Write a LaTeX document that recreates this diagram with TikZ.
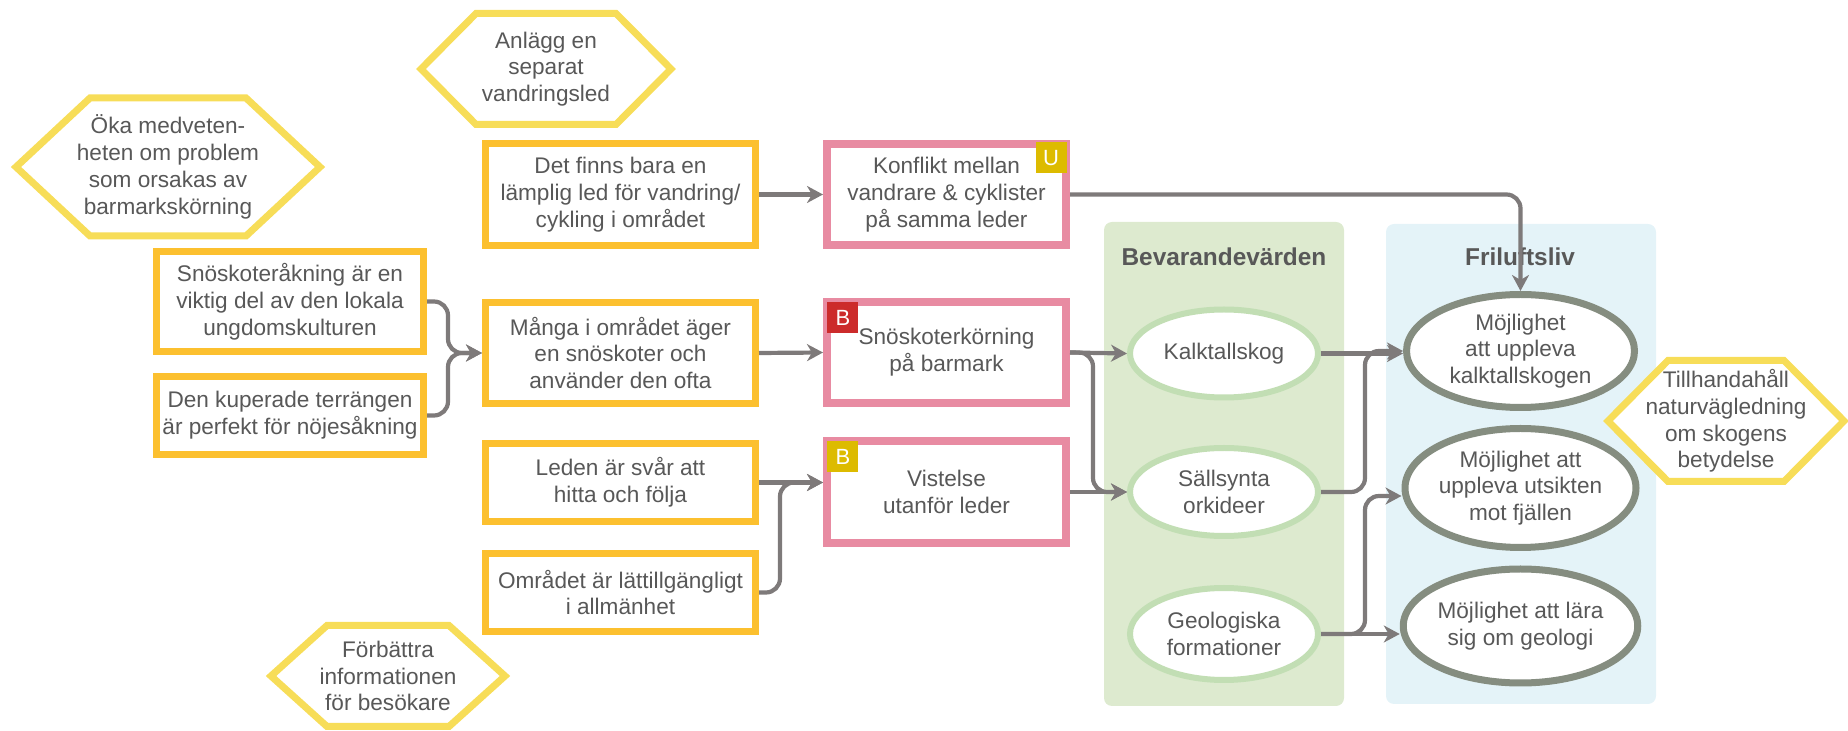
\documentclass[tikz,border=0pt]{standalone}
\usepackage{fontspec}
\setmainfont{Liberation Sans}
\usetikzlibrary{arrows.meta,shapes.geometric}
\definecolor{orangeC}{HTML}{FCC02F}
\definecolor{pinkC}{HTML}{E88BA2}
\definecolor{hexC}{HTML}{F7DD58}
\definecolor{arrowC}{HTML}{7E7A7A}
\definecolor{txtC}{HTML}{585858}
\definecolor{greenP}{HTML}{DDEACF}
\definecolor{greenE}{HTML}{C2DEB4}
\definecolor{blueP}{HTML}{E4F3F8}
\definecolor{grayE}{HTML}{858D80}
\definecolor{goldB}{HTML}{DDBB00}
\definecolor{redB}{HTML}{CC2B2B}
\newcommand\myhex[4]{%
  \draw[hexline] ([shift={(-#2,0)}]#1.center) -- ([shift={(-#2+#4,-#3)}]#1.center)
   -- ([shift={(#2-#4,-#3)}]#1.center) -- ([shift={(#2,0)}]#1.center)
   -- ([shift={(#2-#4,#3)}]#1.center) -- ([shift={(-#2+#4,#3)}]#1.center) -- cycle;}
\tikzset{
  txt/.style={align=center, text=txtC, font=\fontsize{11.3}{13.4}\selectfont, inner sep=0pt},
  obox/.style={txt, rectangle, draw=orangeC, fill=white, line width=3.5pt, minimum width=135pt},
  pbox/.style={txt, rectangle, draw=pinkC, fill=white, line width=4pt, minimum width=119.5pt, minimum height=50.5pt},
  gell/.style={txt, ellipse, draw=greenE, fill=white, line width=3pt, minimum width=94pt, minimum height=44pt},
  yell/.style={txt, ellipse, draw=grayE, fill=white, line width=3.5pt, minimum width=114pt, minimum height=56.5pt},
  hexline/.style={draw=hexC, fill=white, line width=3.5pt, line join=miter},
  panel/.style={rounded corners=4pt, inner sep=0pt},
  ptitle/.style={text=txtC, font=\fontsize{12.2}{14}\selectfont\bfseries, inner sep=0pt},
  badge/.style={text=white, font=\fontsize{11}{12}\selectfont, minimum width=15.5pt, minimum height=15.5pt, inner sep=0pt},
  conn/.style={draw=arrowC, line width=2.1pt, rounded corners=7pt, -{Stealth[length=8pt,width=8.5pt,inset=2.5pt]}},
}
\begin{document}
\begin{tikzpicture}[x=0.5pt,y=-0.5pt]
\useasboundingbox (0,0) rectangle (1848,731);
% panels
\node[panel, fill=greenP, minimum width=120pt, minimum height=242pt] (pG) at (1224,464) {};
\node[panel, fill=blueP, minimum width=135pt, minimum height=240pt] (pB) at (1521,464) {};
\node[ptitle] (tG) at (1224,257) {Bevarandevärden};
\node[ptitle] (tB) at (1520,257) {Friluftsliv};
% hexagons
\node[txt] (hA) at (546,69) {};
\myhex{hA}{125}{55.5}{55}
\node[txt] at (hA) {Anlägg en\\separat\\vandringsled};
\node[txt] (hO) at (168,167) {};
\myhex{hO}{152}{69}{74}
\node[txt] at (hO) {Öka medveten-\\heten om problem\\som orsakas av\\barmarkskörning};
\node[txt] (hF) at (388,676) {};
\myhex{hF}{117}{50.5}{56}
\node[txt] at (hF) {Förbättra\\informationen\\för besökare};
\node[txt] (hT) at (1726,421) {};
\myhex{hT}{118}{60.5}{60}
\node[txt] at (hT) {Tillhandahåll\\naturvägledning\\om skogens\\betydelse};
% orange boxes
\node[obox, minimum height=51pt] (bDet) at (620.5,194.5) {Det finns bara en\\lämplig led för vandring/\\cykling i området};
\node[obox, minimum width=133.5pt, minimum height=50pt] (bSno) at (290,301.5) {Snöskoteråkning är en\\viktig del av den lokala\\ungdomskulturen};
\node[obox, minimum width=133.5pt, minimum height=39pt] (bDen) at (290,415.5) {Den kuperade terrängen\\är perfekt för nöjesåkning};
\node[obox, minimum height=50.5pt] (bMan) at (620.5,353) {Många i området äger\\en snöskoter och\\använder den ofta};
\node[obox, minimum height=39pt] (bLed) at (620.5,482.5) {Leden är svår att\\hitta och följa};
\node[obox, minimum height=39pt] (bOmr) at (620.5,592.5) {Området är lättillgängligt\\i allmänhet};
% pink boxes
\node[pbox] (pKon) at (946.5,194.5) {Konflikt mellan\\vandrare \& cyklister\\på samma leder};
\node[pbox] (pSno) at (946.5,352.5) {Snöskoterkörning\\på barmark};
\node[pbox, minimum height=51pt] (pVis) at (946.5,492) {Vistelse\\utanför leder};
\node[badge, fill=goldB, anchor=north east] (uK) at ([shift={(-3,2)}]pKon.north east) {U};
\node[badge, fill=redB, anchor=north west] (bS) at ([shift={(4,4)}]pSno.north west) {B};
\node[badge, fill=goldB, anchor=north west] (bV) at ([shift={(4,4)}]pVis.north west) {B};
% green ellipses
\node[gell] (kalk) at (1224,353.5) {Kalktallskog};
\node[gell] (sall) at (1224,492) {Sällsynta\\orkideer};
\node[gell, minimum height=46pt] (geo) at (1224,634) {Geologiska\\formationer};
% gray ellipses
\node[yell] (e1) at (1520.5,351) {Möjlighet\\att uppleva\\kalktallskogen};
\node[yell, minimum height=59.5pt] (e2) at (1520.5,488) {Möjlighet att\\uppleva utsikten\\mot fjällen};
\node[yell, minimum height=57pt] (e3) at (1520.5,626) {Möjlighet att lära\\sig om geologi};
% connectors
\draw[conn] (bSno.east) -- ++(21,0) |- (bMan.west);
\draw[conn] (bDen.east) -- ++(21,0) |- (bMan.west);
\draw[conn] (bDet.east) -- (pKon.west);
\draw[conn] (bMan.east) -- (pSno.west);
\draw[conn] (bLed.east) -- (bLed.east -| pVis.west);
\draw[conn] (bOmr.east) -- ++(21,0) |- (bLed.east -| pVis.west);
\draw[conn] (pKon.east) -| (e1.north);
\draw[conn] (pSno.east) -- (kalk.west);
\draw[conn] (pSno.east) -- ++(23,0) |- (sall.west);
\draw[conn] (pVis.east) -- (sall.west);
\draw[conn] (kalk.east) -- (kalk.east -| e1.west);
\draw[conn] (sall.east) -- ++(44,0) |- (e1.west);
\draw[conn] (geo.east) -- ++(44,0) |- ([yshift=-4pt]e2.west);
\draw[conn] (geo.east) -- (geo.east -| e3.west);
\end{tikzpicture}
\end{document}
